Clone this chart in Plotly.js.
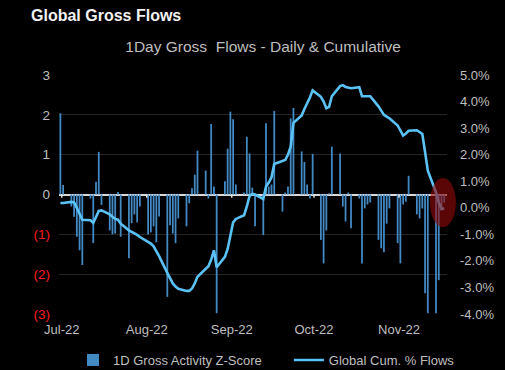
<!DOCTYPE html>
<html>
<head>
<meta charset="utf-8">
<script src="https://cdn.plot.ly/plotly-3.0.1.min.js"></script>
<style>html,body{margin:0;padding:0;background:#000;}#chart{width:505px;height:370px;}</style>
</head>
<body>
<div id="chart"></div>
<script>
const dates = [
 '2022-06-30','2022-07-01','2022-07-04','2022-07-05','2022-07-06','2022-07-07','2022-07-08',
 '2022-07-11','2022-07-12','2022-07-13','2022-07-14','2022-07-15','2022-07-18','2022-07-19',
 '2022-07-20','2022-07-21','2022-07-22','2022-07-25','2022-07-26','2022-07-27','2022-07-28','2022-07-29',
 '2022-08-01','2022-08-02','2022-08-03','2022-08-04','2022-08-05','2022-08-08','2022-08-09',
 '2022-08-10','2022-08-11','2022-08-12','2022-08-15','2022-08-16','2022-08-17','2022-08-18','2022-08-19',
 '2022-08-22','2022-08-23','2022-08-24','2022-08-25','2022-08-26','2022-08-29','2022-08-30','2022-08-31',
 '2022-09-01','2022-09-02','2022-09-05','2022-09-06','2022-09-07','2022-09-08','2022-09-09',
 '2022-09-12','2022-09-13','2022-09-14','2022-09-15','2022-09-16','2022-09-19','2022-09-20',
 '2022-09-21','2022-09-22','2022-09-23','2022-09-26','2022-09-27','2022-09-28','2022-09-29','2022-09-30',
 '2022-10-03','2022-10-04','2022-10-05','2022-10-06','2022-10-07','2022-10-10','2022-10-11',
 '2022-10-12','2022-10-13','2022-10-14','2022-10-17','2022-10-18','2022-10-19','2022-10-20','2022-10-21',
 '2022-10-24','2022-10-25','2022-10-26','2022-10-27','2022-10-28','2022-10-31',
 '2022-11-01','2022-11-02','2022-11-03','2022-11-04','2022-11-07','2022-11-08','2022-11-09',
 '2022-11-10','2022-11-11','2022-11-14','2022-11-15','2022-11-16','2022-11-17'
];
const zScore = [
 2.04,0.24,-0.3,-0.56,-1.06,-1.4,-1.77,
 -0.1,-1.22,0.32,1.07,-0.26,-0.9,-1.0,
 -0.98,0.06,-1.06,-1.6,-0.72,-0.5,-0.7,-0.3,
 -1.0,-0.95,-0.8,-1.2,-0.55,-2.57,-0.77,
 -0.98,-1.22,-0.6,-0.8,-0.22,0.16,0.5,1.1,
 0.6,-0.1,1.77,0.2,-2.98,0.33,1.15,2.08,
 1.89,0.25,0.05,1.45,1.03,0.17,-0.8,
 -1.02,1.79,0.2,0.25,2.1,-0.43,0.05,
 0.2,1.91,2.17,1.08,0.82,0.25,-0.1,1.02,
 -1.14,-1.73,-0.9,0.03,1.2,1.03,-0.3,
 -0.68,0.05,-0.85,-0.1,-1.73,-0.35,-0.25,-0.2,
 -1.14,-1.35,-1.45,-0.73,-0.35,-1.22,
 -1.73,-0.25,-0.18,0.47,-0.5,-0.6,-0.35,
 -2.48,-2.98,-2.98,-2.15,-0.35,-0.2
];
const cumFlows = [
 0.18,0.18,0.22,0.2,0.0,-0.22,-0.45,
 -0.47,-0.57,-0.35,-0.12,-0.1,-0.25,-0.34,
 -0.42,-0.45,-0.6,-0.85,-0.9,-0.95,-1.02,-1.1,
 -1.27,-1.35,-1.45,-1.62,-1.82,-2.45,-2.68,
 -2.85,-2.97,-3.05,-3.13,-3.13,-3.04,-2.85,-2.6,
 -2.3,-2.2,-1.95,-1.6,-2.24,-1.85,-1.55,-1.05,
 -0.55,-0.42,-0.28,0.05,0.45,0.52,0.5,
 0.33,0.8,0.95,1.15,1.65,1.77,1.8,
 2.0,2.3,3.2,3.48,3.72,3.92,4.15,4.42,
 4.18,4.0,3.75,3.8,4.2,4.58,4.62,
 4.55,4.53,4.5,4.54,4.2,4.2,4.21,4.2,
 3.82,3.65,3.5,3.43,3.37,3.1,
 2.9,2.72,2.8,2.9,2.92,2.85,2.78,
 2.1,1.4,0.58,0.2,-0.05,-0.02
];
const monthTicks = ['2022-07-01','2022-08-01','2022-09-01','2022-10-01','2022-11-01'];
const monthLabels = ['Jul-22','Aug-22','Sep-22','Oct-22','Nov-22'];
const leftTicks = [3,2,1,0,-1,-2,-3];
const leftLabels = ['3','2','1','0','<span style="color:#ff1a1a">(1)</span>','<span style="color:#ff1a1a">(2)</span>','<span style="color:#ff1a1a">(3)</span>'];
const rightTicks = [5,4,3,2,1,0,-1,-2,-3,-4];
const rightLabels = ['5.0%','4.0%','3.0%','2.0%','1.0%','0.0%','-1.0%','-2.0%','-3.0%','-4.0%'];

const FONT = '"Liberation Sans", Arial, sans-serif';
const GREY = '#bfbfbf';

const traces = [
 {type:'bar', x:dates, y:zScore, name:'1D Gross Activity Z-Score',
  xperiod:86400000, xperiodalignment:'middle', legend:'legend',
  marker:{color:'#4389c4', line:{width:0}}, yaxis:'y'},
 {type:'scatter', mode:'lines', x:dates, y:cumFlows, name:'Global Cum. % Flows',
  xperiod:86400000, xperiodalignment:'middle', legend:'legend2',
  line:{color:'#5bc2f5', width:2.6, shape:'linear'}, yaxis:'y2'}
];

const shapes = monthTicks.map(d => ({type:'line', xref:'x', yref:'y', x0:d, x1:d, y0:0, y1:-0.08,
  line:{color:'#e0e0e0', width:1.5}, layer:'above'}));
shapes.push({type:'circle', xref:'paper', yref:'paper', x0:0.956, x1:1.023, y0:0.364, y1:0.569,
  fillcolor:'rgba(150,10,10,0.6)', line:{width:0}, layer:'above'});

const legendBase = {orientation:'h', xref:'container', yref:'container', xanchor:'left', y:0.027, yanchor:'middle',
  font:{family:FONT, size:13, color:GREY}, bgcolor:'rgba(0,0,0,0)'};

const layout = {
  width:505, height:370,
  paper_bgcolor:'#000', plot_bgcolor:'#000',
  margin:{l:59, r:58, t:75, b:56},
  font:{family:FONT, size:13, color:GREY},
  bargap:0.35,
  showlegend:true,
  title:{text:'1Day Gross\u00a0 Flows - Daily &amp; Cumulative', font:{family:FONT, size:15.5, color:GREY},
    xref:'container', yref:'container', x:0.521, xanchor:'center', y:0.873, yanchor:'middle'},
  annotations:[{text:'<b>Global Gross Flows</b>', xref:'paper', yref:'paper', x:-0.077, xanchor:'left',
    y:1.251, yanchor:'middle', showarrow:false, font:{family:FONT, size:16, color:'#f2f2f2'}}],
  xaxis:{type:'date', range:['2022-06-30','2022-11-18 12:00'], tickvals:monthTicks, ticktext:monthLabels,
    showgrid:false, zeroline:false, showline:false, ticks:'', ticklabelstandoff:6,
    tickfont:{family:FONT, size:13, color:GREY}},
  yaxis:{range:[-3,3], tickvals:leftTicks, ticktext:leftLabels, showgrid:true, gridcolor:'#262626', gridwidth:1,
    zeroline:true, zerolinecolor:'#d9d9d9', zerolinewidth:2, showline:false, ticks:'', ticklabelstandoff:8,
    tickfont:{family:FONT, size:13.5, color:GREY}},
  yaxis2:{range:[-4,5], overlaying:'y', side:'right', tickvals:rightTicks, ticktext:rightLabels,
    showgrid:false, zeroline:false, showline:false, ticks:'', ticklabelstandoff:12,
    tickfont:{family:FONT, size:13, color:GREY}},
  legend:Object.assign({}, legendBase, {x:0.1446}),
  legend2:Object.assign({}, legendBase, {x:0.572}),
  shapes:shapes
};

Plotly.newPlot('chart', traces, layout, {displayModeBar:false, staticPlot:true});
</script>
</body>
</html>
